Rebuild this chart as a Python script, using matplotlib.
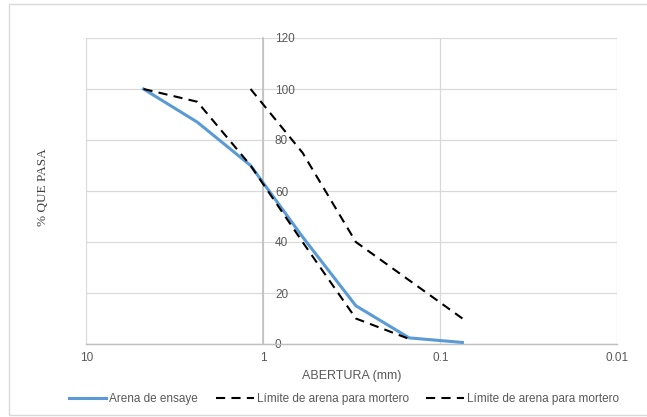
import matplotlib

matplotlib.use("Agg")
import matplotlib.pyplot as plt
from matplotlib.patches import Rectangle

# sieve openings (mm) and % passing
aberturas = [4.75, 2.36, 1.18, 0.6, 0.3, 0.15, 0.075]
arena_ensaye = [100, 87, 70, 42, 15, 2.4, 0.6]

aberturas_lim_inf = [4.75, 2.36, 1.18, 0.6, 0.3, 0.15]
limite_inf = [100, 95, 70, 40, 10, 2]

aberturas_lim_sup = [1.18, 0.6, 0.3, 0.15, 0.075]
limite_sup = [100, 75, 40, 25, 10]

x_ticks = [10, 1, 0.1, 0.01]
x_tick_labels = ["10", "1", "0.1", "0.01"]
y_ticks = [0, 20, 40, 60, 80, 100, 120]

SANS = "Liberation Sans"
TICK_COLOR = "#595959"
GRID_COLOR = "#d9d9d9"
AXIS_COLOR = "#bfbfbf"

W, H = 647, 417
fig = plt.figure(figsize=(W / 100, H / 100), dpi=100)
left, right = 86.3 / W, 617.3 / W
bottom, top = 1 - 344 / H, 1 - 38 / H
ax = fig.add_axes([left, bottom, right - left, top - bottom])

dash = (0, (4.4, 3.0))
ax.plot(aberturas, arena_ensaye, color="#5B9BD5", lw=2.2, label="Arena de ensaye", zorder=4)
ax.plot(aberturas_lim_inf, limite_inf, color="black", lw=1.5, linestyle=dash,
        label="Límite de arena para mortero", zorder=5)
ax.plot(aberturas_lim_sup, limite_sup, color="black", lw=1.5, linestyle=dash,
        label="Límite de arena para mortero", zorder=5)

ax.set_xscale("log")
ax.set_xlim(10, 0.01)
ax.set_ylim(0, 120)
ax.set_xticks(x_ticks)
ax.set_xticklabels(x_tick_labels)
ax.minorticks_off()
ax.set_yticks(y_ticks)

# y axis crosses at x = 1, labels on the right of it
ax.spines["left"].set_visible(False)
ax.spines["top"].set_visible(False)
ax.spines["right"].set_position(("data", 1))
ax.spines["right"].set_color(AXIS_COLOR)
ax.spines["right"].set_linewidth(1.2)
ax.spines["bottom"].set_color(AXIS_COLOR)
ax.spines["bottom"].set_linewidth(1.0)
ax.yaxis.tick_right()
ax.tick_params(axis="y", length=0, pad=8.4, labelsize=8.5, labelcolor=TICK_COLOR)
ax.tick_params(axis="x", length=0, pad=6, labelsize=8.5, labelcolor=TICK_COLOR)
for lab in ax.get_xticklabels() + ax.get_yticklabels():
    lab.set_fontfamily(SANS)

ax.grid(True, which="major", color=GRID_COLOR, lw=0.9, zorder=0)
ax.set_axisbelow(True)

ax.set_xlabel("ABERTURA (mm)", fontsize=9, color=TICK_COLOR, fontfamily=SANS, labelpad=4)
fig.text(42.7 / W, 1 - 186.7 / H, "% QUE PASA", rotation=90, ha="center", va="center",
         fontsize=9.5, color="#404040", fontfamily="Liberation Serif")

fig.legend(loc="center", bbox_to_anchor=(344 / W, 1 - 399 / H), ncol=3, frameon=False,
           prop={"family": SANS, "size": 8.5}, labelcolor=TICK_COLOR,
           handlelength=3.2, handletextpad=0.25, columnspacing=1.5, borderpad=0)

fig.add_artist(Rectangle((9 / W, 2 / H), 1.2, 1 - 6 / H, transform=fig.transFigure,
                         fill=False, edgecolor=GRID_COLOR, lw=1.0))

fig.savefig("out.png", dpi=100)
